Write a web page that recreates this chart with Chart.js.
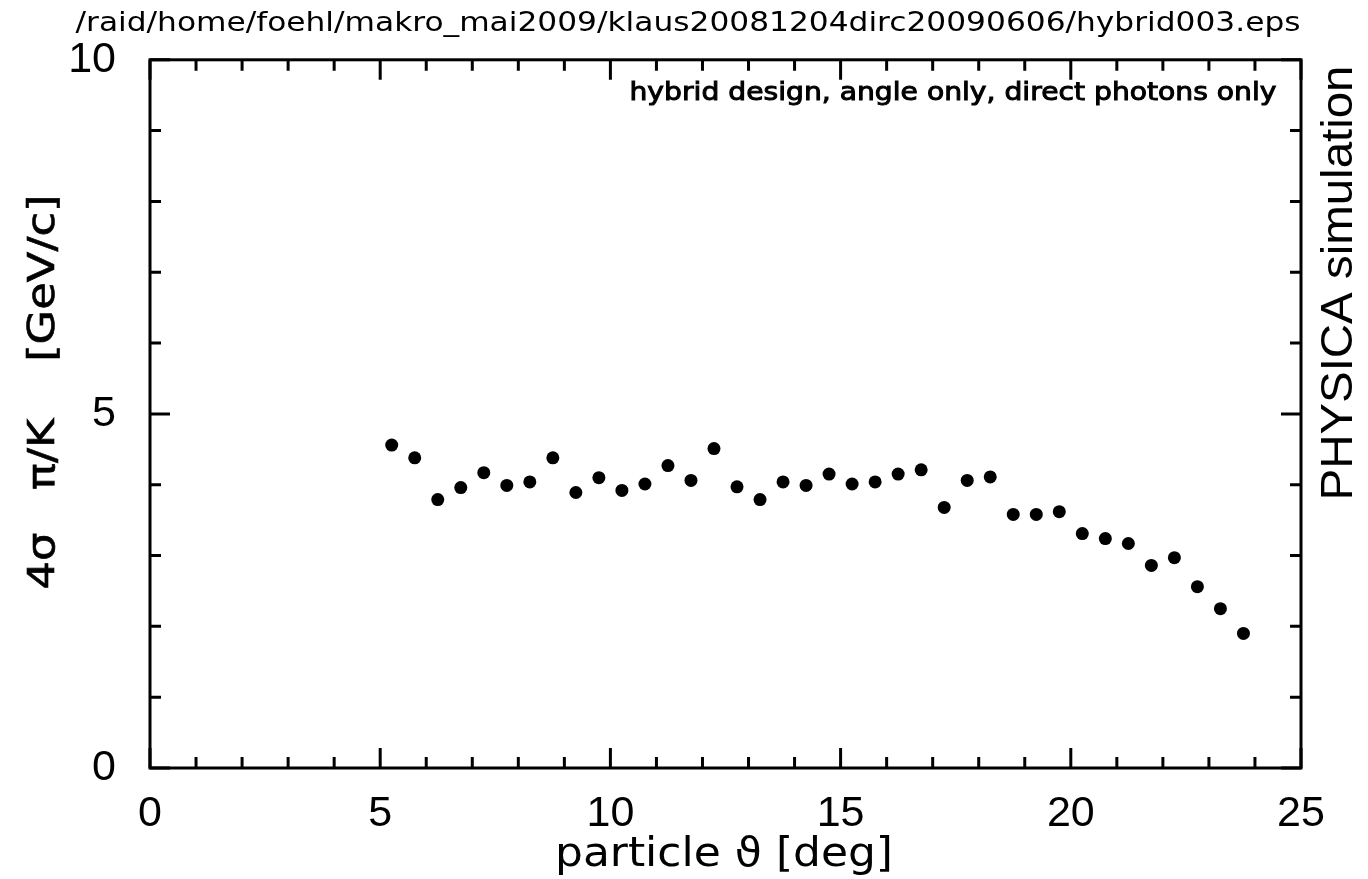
<!DOCTYPE html>
<html>
<head>
<meta charset="utf-8">
<script src="https://cdn.jsdelivr.net/npm/chart.js@4.4.1/dist/chart.umd.min.js"></script>
<style>
  html, body { margin: 0; padding: 0; background: #fff; }
  #wrap { width: 1368px; height: 879px; }
</style>
</head>
<body>
<div id="wrap"><canvas id="sepChart" width="1368" height="879"></canvas></div>
<script>
// particle angle (deg) and 4 sigma pi/K separation (GeV/c)
const thetaDeg = [5.25, 5.75, 6.25, 6.75, 7.25, 7.75, 8.25, 8.75, 9.25, 9.75,
                  10.25, 10.75, 11.25, 11.75, 12.25, 12.75, 13.25, 13.75, 14.25, 14.75,
                  15.25, 15.75, 16.25, 16.75, 17.25, 17.75, 18.25, 18.75, 19.25, 19.75,
                  20.25, 20.75, 21.25, 21.75, 22.25, 22.75, 23.25, 23.75];
const separation = [4.56, 4.38, 3.79, 3.96, 4.17, 3.99, 4.04, 4.38, 3.89, 4.10,
                    3.92, 4.01, 4.27, 4.06, 4.51, 3.97, 3.79, 4.04, 3.99, 4.15,
                    4.01, 4.04, 4.15, 4.21, 3.68, 4.06, 4.11, 3.58, 3.58, 3.62,
                    3.31, 3.24, 3.17, 2.86, 2.97, 2.56, 2.25, 1.90];

const xTickLabels = [0, 5, 10, 15, 20, 25];
const yTickLabels = [0, 5, 10];
const xMinorStep = 1;
const yMinorStep = 1;

const titleText = '/raid/home/foehl/makro_mai2009/klaus20081204dirc20090606/hybrid003.eps';
const subtitleText = 'hybrid design, angle only, direct photons only';
const xTitle = 'particle \u03d1 [deg]';
const yTitle = '4\u03c3   \u03c0/K    [GeV/c]';
const sideText = 'PHYSICA simulation';

const tickFont = '"Liberation Sans Narrow", "Liberation Sans"';

// draw text squeezed/stretched to a given width
function fitText(ctx, text, x, y, width, font, rotate, stroke) {
    ctx.save();
    ctx.font = font;
    ctx.textAlign = 'center';
    ctx.textBaseline = 'middle';
    ctx.translate(x, y);
    if (rotate) ctx.rotate(-Math.PI / 2);
    const w = ctx.measureText(text).width;
    ctx.scale(width / w, 1);
    ctx.fillText(text, 0, 0);
    if (stroke) {
        ctx.lineWidth = stroke;
        ctx.strokeStyle = '#000';
        ctx.strokeText(text, 0, 0);
    }
    ctx.restore();
}

const framePlugin = {
    id: 'frame',
    afterDraw(chart) {
        const { ctx, chartArea: a, scales: { x, y } } = chart;
        ctx.save();
        ctx.strokeStyle = '#000';
        ctx.lineWidth = 3;
        ctx.strokeRect(a.left, a.top, a.right - a.left, a.bottom - a.top);

        ctx.beginPath();
        for (let v = x.min; v <= x.max; v += xMinorStep) {
            const px = x.getPixelForValue(v);
            const len = xTickLabels.includes(v) ? 20 : 11;
            ctx.moveTo(px, a.bottom); ctx.lineTo(px, a.bottom - len);
            ctx.moveTo(px, a.top); ctx.lineTo(px, a.top + len);
        }
        for (let v = y.min; v <= y.max; v += yMinorStep) {
            const py = y.getPixelForValue(v);
            const len = yTickLabels.includes(v) ? 20 : 11;
            ctx.moveTo(a.left, py); ctx.lineTo(a.left + len, py);
            ctx.moveTo(a.right, py); ctx.lineTo(a.right - len, py);
        }
        ctx.stroke();
        ctx.restore();

        ctx.fillStyle = '#000';
        fitText(ctx, titleText, 688, 24, 1225, '26px "DejaVu Sans"', false);
        fitText(ctx, subtitleText, 953, 93, 647, '25px "DejaVu Sans"', false, 1);
        fitText(ctx, xTitle, 724, 856, 338, '40px "DejaVu Sans"', false);
        fitText(ctx, yTitle, 44, 392, 395, '38px "DejaVu Sans"', true, 0.6);
        fitText(ctx, sideText, 1340, 283, 435, '44px "Liberation Sans Narrow", "Liberation Sans"', true);
    }
};

const ctx = document.getElementById('sepChart').getContext('2d');
const chart = new Chart(ctx, {
    type: 'scatter',
    data: {
        datasets: [{
            data: thetaDeg.map((t, i) => ({ x: t, y: separation[i] })),
            backgroundColor: '#000',
            borderWidth: 0,
            pointRadius: 6.5,
            pointHoverRadius: 6.5
        }]
    },
    options: {
        responsive: false,
        animation: false,
        devicePixelRatio: 1,
        layout: { padding: { top: 58, right: 67, left: 0, bottom: 0 } },
        plugins: {
            legend: { display: false },
            tooltip: { enabled: false }
        },
        scales: {
            x: {
                type: 'linear',
                min: 0,
                max: 25,
                afterFit: s => { s.height = 111; },
                afterBuildTicks: s => { s.ticks = xTickLabels.map(v => ({ value: v })); },
                ticks: {
                    color: '#000',
                    font: { family: tickFont, size: 43 },
                    padding: 20,
                    maxRotation: 0
                },
                grid: { display: false, drawTicks: false },
                border: { display: false }
            },
            y: {
                min: 0,
                max: 10,
                afterFit: s => { s.width = 150; },
                afterBuildTicks: s => { s.ticks = yTickLabels.map(v => ({ value: v })); },
                ticks: {
                    color: '#000',
                    font: { family: tickFont, size: 43 },
                    padding: 34
                },
                grid: { display: false, drawTicks: false },
                border: { display: false }
            }
        }
    },
    plugins: [framePlugin]
});
</script>
</body>
</html>
